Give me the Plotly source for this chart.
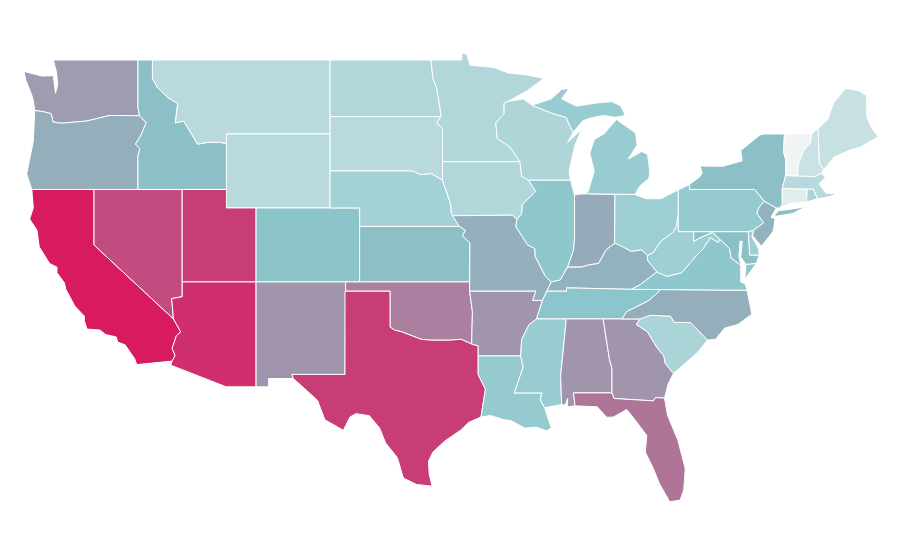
import plotly.graph_objects as go
from plotly.colors import sample_colorscale

# state values
states = ["WA","OR","CA","NV","ID","MT","WY","UT","AZ","CO","NM","ND","SD","NE","KS","OK","TX",
          "MN","IA","MO","AR","LA","WI","IL","MI","IN","OH","KY","TN","MS","AL","GA","FL","SC","NC",
          "VA","WV","MD","DE","PA","NJ","NY","CT","RI","MA","VT","NH","ME"]
values = [47,40,100,80,33,17,17,86,92,31,50,19,17,23,33,59,86,
          19,19,39,50,27,20,29,26,41,25,38,30,26,50,50,63,21,40,
          29,24,33,25,27,38,33,5,21,18,1,12,13]
colorscale = [[0, "#f5f5f5"], [0.3, "#8ac6cb"], [1, "#d81b60"]]

# outlines, (lon, lat), rough borders since the topojson is not reachable offline
columbia = [(-116.92,45.99),(-118.98,46.0),(-119.3,45.93),(-120.5,45.7),(-121.2,45.65),(-122.2,45.58),(-122.77,45.65),(-122.9,46.1),(-123.4,46.2),(-124.0,46.27)]
snake = [(-117.03,43.8),(-116.9,44.2),(-117.2,44.45),(-116.85,44.9),(-116.47,45.6),(-116.92,45.99)]
colorado = [(-114.63,35.0),(-114.14,34.3),(-114.43,34.1),(-114.72,33.4),(-114.52,33.03),(-114.72,32.72)]
red_river = [(-94.48,33.64),(-95.2,33.9),(-96.0,33.85),(-96.6,33.85),(-97.2,33.85),(-97.9,33.9),(-98.5,34.1),(-99.2,34.3),(-99.7,34.4),(-100.0,34.56)]
ohio_river = [(-82.6,38.42),(-83.0,38.73),(-83.7,38.65),(-84.23,38.88),(-84.82,39.1),(-85.4,38.73),(-85.9,38.0),(-86.5,37.93),(-87.1,37.8),(-88.0,37.8),(-88.5,37.1),(-89.1,37.0)]
miss_upper = [(-91.42,40.38),(-91.5,40.0),(-90.7,39.0),(-90.2,38.8),(-90.2,38.4),(-89.5,37.3),(-89.1,37.0)]
miss_lower = [(-89.4,36.5),(-89.7,36.0),(-90.1,35.0),(-90.6,34.7),(-91.1,33.9),(-91.17,33.0)]
miss_north = [(-91.22,43.5),(-91.1,42.7),(-90.64,42.5),(-90.15,41.9),(-91.05,41.2),(-91.1,40.7),(-91.42,40.38)]
missouri = [(-96.45,42.49),(-96.1,41.7),(-95.9,41.2),(-95.85,40.7),(-95.77,40.58)]
savannah = [(-83.1,35.0),(-83.35,34.7),(-82.6,34.3),(-82.0,33.5),(-81.5,33.0),(-81.4,32.6),(-80.85,32.05)]
nc_sc = [(-83.1,35.0),(-82.4,35.2),(-81.04,35.15),(-80.8,34.82),(-79.67,34.8),(-78.55,33.86)]
appal = [(-84.32,35.0),(-84.0,35.4),(-83.1,35.75),(-82.5,36.0),(-81.68,36.59)]
ky_va = [(-83.68,36.6),(-83.1,36.85),(-81.97,37.54),(-82.6,38.17),(-82.6,38.42)]
wv_va = [(-81.97,37.54),(-81.3,37.3),(-80.3,37.5),(-79.3,38.42),(-78.87,38.77),(-78.35,39.4),(-77.83,39.13),(-77.72,39.32)]
wv_md = [(-77.72,39.32),(-78.2,39.68),(-78.9,39.45),(-79.48,39.2),(-79.48,39.72)]
potomac = [(-76.3,37.9),(-76.95,38.3),(-77.05,38.8),(-77.72,39.32)]
wv_oh = [(-82.6,38.42),(-82.2,38.6),(-81.7,39.2),(-80.85,39.7),(-80.65,40.0),(-80.52,40.64)]
de_nj = [(-75.42,39.8),(-74.75,40.2),(-75.2,40.7),(-75.1,41.0),(-74.7,41.36)]
red_north = [(-97.23,49.0),(-97.1,48.0),(-96.85,47.5),(-96.6,46.3),(-96.56,45.94)]
wi_mn = [(-91.22,43.5),(-91.9,44.3),(-92.75,44.75),(-92.85,45.6),(-92.29,46.1),(-92.29,46.66)]
wi_up = [(-90.4,46.55),(-89.1,46.13),(-88.1,45.9),(-87.8,45.35),(-87.6,45.1)]
tx_la = [(-94.04,33.0),(-94.04,31.99),(-93.55,31.2),(-93.7,30.3),(-93.85,29.7)]
ms_la = [(-91.17,33.0),(-91.0,32.4),(-91.6,31.0),(-89.73,31.0),(-89.85,30.65),(-89.55,30.2)]

outlines = {
    "WA": [(-124.73,48.38),(-123.5,48.13),(-122.75,48.15),(-122.6,47.2),(-122.45,47.7),(-122.55,48.4),(-122.75,49.0),(-117.03,49.0),(-117.03,46.42)] + columbia + [(-124.1,46.8),(-124.2,47.1),(-124.6,47.9)],
    "OR": columbia[::-1] + snake[::-1] + [(-117.03,42.0),(-124.2,42.0),(-124.55,42.84),(-124.1,44.6)],
    "CA": [(-124.2,42.0),(-120.0,42.0),(-120.0,39.0)] + colorado + [(-117.12,32.53),(-117.25,32.85),(-117.9,33.6),(-118.4,33.75),(-118.5,34.03),(-119.2,34.15),(-119.6,34.4),(-120.47,34.45),(-120.65,34.9),(-120.65,35.15),(-121.3,35.7),(-121.9,36.6),(-122.0,36.95),(-122.5,37.5),(-122.5,37.8),(-123.0,38.0),(-123.7,38.9),(-123.85,39.8),(-124.35,40.4),(-124.1,41.0)],
    "NV": [(-120.0,42.0),(-114.04,42.0),(-114.04,36.2),(-114.75,36.1),(-114.63,35.0),(-120.0,39.0)],
    "ID": [(-117.03,49.0),(-116.05,49.0),(-116.05,48.0),(-115.7,47.5),(-114.95,46.93),(-114.35,46.65),(-114.5,45.6),(-113.95,45.7),(-113.45,45.05),(-113.0,44.45),(-112.3,44.55),(-111.5,44.55),(-111.05,44.48),(-111.05,42.0),(-117.03,42.0)] + snake + [(-117.03,46.42)],
    "MT": [(-116.05,49.0),(-104.05,49.0),(-104.05,45.0),(-111.05,45.0),(-111.05,44.48),(-111.5,44.55),(-112.3,44.55),(-113.0,44.45),(-113.45,45.05),(-113.95,45.7),(-114.5,45.6),(-114.35,46.65),(-114.95,46.93),(-115.7,47.5),(-116.05,48.0)],
    "WY": [(-111.05,45.0),(-104.05,45.0),(-104.05,41.0),(-111.05,41.0)],
    "UT": [(-114.04,42.0),(-111.05,42.0),(-111.05,41.0),(-109.05,41.0),(-109.05,37.0),(-114.04,37.0)],
    "AZ": [(-114.04,37.0),(-109.05,37.0),(-109.05,31.33),(-111.07,31.33),(-114.81,32.5)] + colorado[::-1] + [(-114.75,36.1),(-114.04,36.2)],
    "CO": [(-109.05,41.0),(-102.05,41.0),(-102.05,37.0),(-109.05,37.0)],
    "NM": [(-109.05,37.0),(-103.0,37.0),(-103.04,32.0),(-106.62,32.0),(-106.53,31.78),(-108.2,31.78),(-108.2,31.33),(-109.05,31.33)],
    "ND": [(-104.05,49.0)] + red_north + [(-104.05,45.94)],
    "SD": [(-104.05,45.94),(-96.56,45.94),(-96.85,45.6),(-96.45,45.3),(-96.45,42.49),(-97.2,42.85),(-97.9,42.8),(-98.5,43.0),(-104.05,43.0)],
    "NE": [(-104.05,43.0),(-98.5,43.0),(-97.9,42.8),(-97.2,42.85)] + missouri + [(-95.31,40.0),(-102.05,40.0),(-102.05,41.0),(-104.05,41.0)],
    "KS": [(-102.05,40.0),(-95.31,40.0),(-94.9,39.8),(-95.1,39.5),(-94.6,39.1),(-94.62,37.0),(-102.05,37.0)],
    "OK": [(-103.0,37.0),(-94.62,37.0),(-94.62,36.5),(-94.43,35.4)] + red_river + [(-100.0,36.5),(-103.0,36.5)],
    "TX": [(-103.04,36.5),(-100.0,36.5)] + red_river[::-1] + [(-94.04,33.55)] + tx_la + [(-94.7,29.4),(-95.2,29.0),(-96.3,28.4),(-97.1,27.8),(-97.4,27.3),(-97.35,26.6),(-97.15,25.96),(-98.2,26.05),(-99.1,26.4),(-99.5,27.5),(-100.3,28.3),(-100.7,29.1),(-101.4,29.77),(-102.3,29.88),(-102.7,29.7),(-103.15,28.98),(-104.4,29.55),(-104.9,30.6),(-106.0,31.4),(-106.53,31.78),(-106.62,32.0),(-103.04,32.0)],
    "MN": [(-97.23,49.0),(-95.15,49.0),(-95.15,49.38),(-94.8,49.3),(-94.6,48.72),(-93.0,48.6),(-92.0,48.3),(-90.8,48.2),(-89.6,48.0),(-90.8,47.3),(-92.05,46.75)] + wi_mn[::-1] + [(-96.45,43.5),(-96.45,45.3),(-96.85,45.6)] + red_north[::-1],
    "IA": [(-96.45,43.5)] + miss_north + [(-91.73,40.61)] + missouri[::-1],
    "MO": [(-95.77,40.58),(-91.73,40.61)] + miss_upper + miss_lower[:2] + [(-90.37,36.0),(-90.15,36.5),(-94.62,36.5),(-94.62,37.0),(-94.6,39.1),(-95.1,39.5),(-94.9,39.8),(-95.31,40.0)],
    "AR": [(-94.62,36.5),(-90.15,36.5),(-90.37,36.0)] + miss_lower[1:] + [(-94.04,33.0),(-94.04,33.55),(-94.48,33.64),(-94.43,35.4)],
    "LA": tx_la + [(-93.2,29.78),(-92.3,29.55),(-91.8,29.5),(-90.9,29.1),(-90.1,29.15),(-89.4,28.95),(-89.1,29.1),(-89.4,29.8)] + ms_la[::-1],
    "WI": [(-92.29,46.66),(-92.05,46.75),(-91.0,46.9)] + wi_up + [(-88.0,44.55),(-87.05,45.25),(-87.5,44.4),(-87.9,43.0),(-87.8,42.5),(-90.64,42.5),(-91.1,42.7)] + wi_mn,
    "IL": [(-90.64,42.5),(-87.8,42.5),(-87.53,41.7),(-87.53,39.35),(-87.6,38.7),(-88.0,37.8),(-88.5,37.1)] + miss_upper[::-1] + [(-91.1,40.7),(-91.05,41.2),(-90.15,41.9)],
    "MI": wi_up + [(-87.0,45.7),(-86.5,45.85),(-85.6,46.0),(-84.75,45.9),(-84.1,46.0),(-84.4,46.5),(-85.0,46.75),(-86.1,46.67),(-87.4,46.5),(-88.4,46.9),(-87.9,47.47),(-88.4,47.4),(-89.1,46.9)] + [(None,None)] + [(-86.8,41.76),(-84.8,41.73),(-83.45,41.73),(-83.1,42.2),(-82.5,42.6),(-82.45,43.0),(-82.6,43.9),(-83.0,44.05),(-83.9,43.65),(-83.3,44.4),(-83.4,45.05),(-84.7,45.78),(-85.1,45.4),(-85.55,45.0),(-86.2,44.7),(-86.5,43.95),(-86.2,43.0),(-86.6,41.9)],
    "IN": [(-87.53,41.7),(-87.2,41.75),(-86.8,41.76),(-84.8,41.73)] + ohio_river[4:10] + [(-87.6,38.7),(-87.53,39.35)],
    "OH": [(-84.8,41.73),(-83.45,41.73),(-82.7,41.5),(-81.7,41.5),(-80.52,41.98),(-80.52,40.64)] + wv_oh[::-1] + ohio_river[1:5],
    "KY": [(-89.4,36.5),(-88.07,36.5),(-88.07,36.68)] + ky_va + ohio_river[1:],
    "TN": [(-90.1,35.0),(-88.2,35.0),(-85.6,35.0)] + appal + [(-83.68,36.6),(-88.07,36.68),(-88.07,36.5),(-89.4,36.5),(-89.7,36.0)],
    "MS": [(-91.17,33.0),(-91.1,33.9),(-90.6,34.7),(-90.1,35.0),(-88.2,35.0),(-88.1,34.9),(-88.47,31.9),(-88.4,30.37)] + ms_la[::-1][:-1],
    "AL": [(-88.2,35.0),(-85.6,35.0),(-85.18,32.87),(-85.0,32.3),(-85.0,31.0),(-87.6,31.0),(-87.5,30.3),(-88.0,30.25),(-88.0,30.7),(-88.15,30.35),(-88.4,30.37),(-88.47,31.9),(-88.1,34.9)],
    "GA": [(-85.6,35.0),(-84.32,35.0)] + savannah + [(-81.2,31.5),(-81.45,30.72),(-82.05,30.75),(-82.2,30.57),(-84.86,30.7),(-85.0,31.0),(-85.0,32.3),(-85.18,32.87)],
    "FL": [(-87.6,31.0),(-85.0,31.0),(-84.86,30.7),(-82.2,30.57),(-82.05,30.75),(-81.45,30.72),(-81.25,29.8),(-80.55,28.45),(-80.05,26.9),(-80.15,25.75),(-80.4,25.2),(-81.1,25.12),(-81.8,26.1),(-82.2,26.9),(-82.75,27.8),(-82.65,28.7),(-83.4,29.5),(-84.0,30.1),(-84.9,29.7),(-85.35,29.68),(-86.0,30.25),(-87.5,30.3)],
    "SC": nc_sc + [(-79.2,33.2),(-79.9,32.7)] + savannah[::-1][:-1],
    "NC": appal[:1] + [(-83.1,35.0)] + nc_sc[1:] + [(-78.0,33.9),(-77.4,34.5),(-76.5,34.7),(-75.55,35.25),(-75.87,36.55)] + appal[::-1][:-1],
    "VA": [(-83.68,36.6),(-81.68,36.59),(-75.87,36.55),(-76.0,36.9),(-76.3,37.0)] + potomac + wv_va[::-1] + [(-83.1,36.85),(None,None),(-76.02,37.15),(-75.95,37.95),(-75.25,38.0)],
    "WV": wv_oh + [(-80.52,39.72)] + wv_md[::-1] + wv_va[::-1] + [(-82.6,38.17)],
    "MD": [(-79.48,39.72),(-75.79,39.72),(-75.69,38.46),(-75.05,38.45),(-75.25,38.0),(-75.95,37.95),(-76.3,38.35),(-76.2,39.2),(-76.35,39.2),(-76.42,38.4)] + potomac + wv_md[1:],
    "DE": [(-75.79,39.72),(-75.42,39.8),(-75.55,39.45),(-75.1,38.8),(-75.05,38.45),(-75.69,38.46)],
    "PA": [(-80.52,41.98),(-79.76,42.27),(-79.76,42.0),(-75.35,42.0)] + de_nj[::-1] + [(-75.79,39.72),(-80.52,39.72)],
    "NJ": de_nj[::-1] + [(-75.5,39.5),(-74.9,38.93),(-74.1,39.75),(-73.98,40.4),(-74.25,40.5),(-73.9,41.0)],
    "NY": [(-79.76,42.27),(-79.05,42.7),(-78.9,42.9),(-79.05,43.27),(-77.5,43.25),(-76.2,43.55),(-76.3,44.1),(-75.0,44.95),(-74.7,45.0),(-73.35,45.0),(-73.4,44.0),(-73.25,43.6),(-73.27,42.75),(-73.5,42.05),(-73.49,41.2),(-73.65,41.0),(-73.9,41.0),(-74.7,41.36),(-75.35,42.0),(-79.76,42.0),(None,None),(-74.03,40.6),(-73.75,40.85),(-72.6,40.97),(-71.9,41.07),(-72.8,40.7),(-73.9,40.55)],
    "CT": [(-73.65,41.0),(-73.49,41.2),(-73.5,42.05),(-71.8,42.02),(-71.8,41.33),(-72.9,41.25)],
    "RI": [(-71.8,42.02),(-71.38,42.02),(-71.12,41.5),(-71.85,41.32)],
    "MA": [(-73.5,42.05),(-73.27,42.75),(-72.46,42.73),(-71.3,42.7),(-70.85,42.87),(-70.6,42.65),(-71.0,42.3),(-70.55,41.8),(-70.05,41.78),(-70.25,42.07),(-69.95,41.7),(-70.65,41.55),(-71.12,41.5),(-71.38,42.02),(-71.8,42.02)],
    "VT": [(-73.35,45.0),(-71.5,45.01),(-71.6,44.5),(-72.05,44.1),(-72.4,43.4),(-72.46,42.73),(-73.27,42.75),(-73.25,43.6),(-73.4,44.0)],
    "NH": [(-71.5,45.01),(-71.08,45.3),(-70.98,43.4),(-70.7,43.07),(-70.85,42.87),(-71.3,42.7),(-72.46,42.73),(-72.4,43.4),(-72.05,44.1),(-71.6,44.5)],
    "ME": [(-71.08,45.3),(-70.4,45.8),(-70.25,46.2),(-70.0,46.7),(-69.22,47.46),(-68.35,47.35),(-67.8,47.07),(-67.78,45.9),(-67.45,45.3),(-67.0,44.85),(-68.2,44.3),(-69.0,44.1),(-70.0,43.75),(-70.7,43.07),(-70.98,43.4)],
}


def close_parts(pts):
    # each part of a state has to end where it started
    out, start = [], None
    for p in pts:
        if p[0] is None:
            out += [start, p]
            start = None
            continue
        if start is None:
            start = p
        out.append(p)
    return out + [start]


fig = go.Figure()
for state, value in zip(states, values):
    pts = close_parts(outlines[state])
    color = sample_colorscale(colorscale, value / 100)[0]
    fig.add_trace(go.Scatter(
        x=[p[0] for p in pts],
        y=[p[1] for p in pts],
        mode="lines",
        fill="toself",
        fillcolor=color,
        line=dict(color="white", width=1),
        name=state,
        text=str(value),
        hoverinfo="name+text",
    ))

fig.update_layout(
    margin=dict(l=0, r=0, t=0, b=0),
    showlegend=False,
    plot_bgcolor="white",
    paper_bgcolor="white",
    xaxis=dict(visible=False, range=[-125.81, -66.08]),
    yaxis=dict(visible=False, range=[22.40, 51.81]),
)
fig.write_html("out.html")
